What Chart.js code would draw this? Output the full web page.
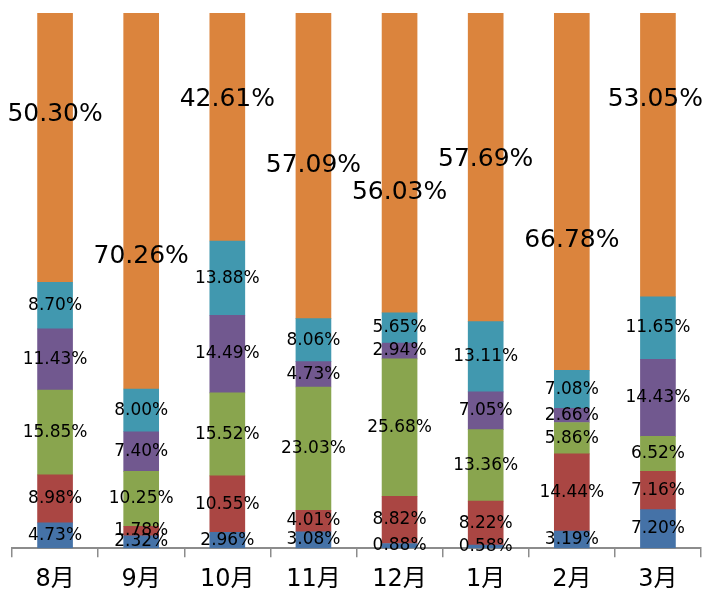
<!DOCTYPE html>
<html>
<head>
<meta charset="utf-8">
<script src="https://cdn.jsdelivr.net/npm/chart.js@4/dist/chart.umd.min.js"></script>
<style>
  html, body { margin: 0; padding: 0; background: #fff; }
  #wrap { width: 705px; height: 603px; }
</style>
</head>
<body>
<div id="wrap"><canvas id="c" width="705" height="603"></canvas></div>
<script>
// Monthly share (%) of each segment, bottom to top
const months = ['8月', '9月', '10月', '11月', '12月', '1月', '2月', '3月'];
const seriesBlue   = [4.73, 2.32, 2.96, 3.08, 0.88, 0.58, 3.19, 7.20];
const seriesRed    = [8.98, 1.78, 10.55, 4.01, 8.82, 8.22, 14.44, 7.16];
const seriesGreen  = [15.85, 10.25, 15.52, 23.03, 25.68, 13.36, 5.86, 6.52];
const seriesPurple = [11.43, 7.40, 14.49, 4.73, 2.94, 7.05, 2.66, 14.43];
const seriesTeal   = [8.70, 8.00, 13.88, 8.06, 5.65, 13.11, 7.08, 11.65];
const seriesOrange = [50.30, 70.26, 42.61, 57.09, 56.03, 57.69, 66.78, 53.05];
// Where the large top-segment labels sit, in axis units (0–100)
const topLabelAt = [81.0, 54.5, 83.8, 71.5, 66.4, 72.6, 57.5, 83.8];

const colors = ['#4572A7', '#AA4643', '#89A54E', '#71588F', '#4198AF', '#DB843D'];
const series = [seriesBlue, seriesRed, seriesGreen, seriesPurple, seriesTeal, seriesOrange];

const datasets = series.map((vals, i) => ({
  label: 'S' + (i + 1),
  data: vals,
  backgroundColor: colors[i],
  borderWidth: 0,
  barThickness: 35
}));

const valueLabels = {
  id: 'valueLabels',
  afterDatasetsDraw(chart) {
    const ctx = chart.ctx;
    const yScale = chart.scales.y;
    const right = chart.width - 2;
    ctx.save();
    ctx.fillStyle = '#000';
    ctx.textAlign = 'center';
    ctx.textBaseline = 'middle';
    chart.data.datasets.forEach((ds, di) => {
      const meta = chart.getDatasetMeta(di);
      meta.data.forEach((bar, i) => {
        const v = ds.data[i];
        const txt = v.toFixed(2) + '%';
        if (di === series.length - 1) {
          ctx.font = '25px "DejaVu Sans"';
          // keep the big label inside the canvas on the right edge
          const half = ctx.measureText(txt).width / 2;
          const x = Math.min(bar.x, right - half);
          ctx.fillText(txt, x, yScale.getPixelForValue(topLabelAt[i]));
        } else {
          ctx.font = '17px "DejaVu Sans"';
          ctx.fillText(txt, bar.x, (bar.y + bar.base) / 2);
        }
      });
    });
    ctx.restore();
  }
};

new Chart(document.getElementById('c'), {
  type: 'bar',
  data: { labels: months, datasets },
  options: {
    responsive: false,
    animation: false,
    layout: { padding: { left: 12, right: 4, top: 13, bottom: 1 } },
    plugins: { legend: { display: false }, tooltip: { enabled: false } },
    scales: {
      x: {
        stacked: true,
        offset: true,
        grid: {
          display: true,
          offset: true,
          drawOnChartArea: false,
          drawTicks: true,
          tickLength: 9,
          color: '#8c8c8c',
          lineWidth: 1.5
        },
        border: { display: true, color: '#8c8c8c', width: 2 },
        ticks: {
          color: '#000',
          padding: 8,
          font: { family: '"DejaVu Sans", "Noto Sans CJK SC"', size: 24 }
        }
      },
      y: {
        stacked: true,
        display: false,
        min: 0,
        max: 100
      }
    }
  },
  plugins: [valueLabels]
});
</script>
</body>
</html>
